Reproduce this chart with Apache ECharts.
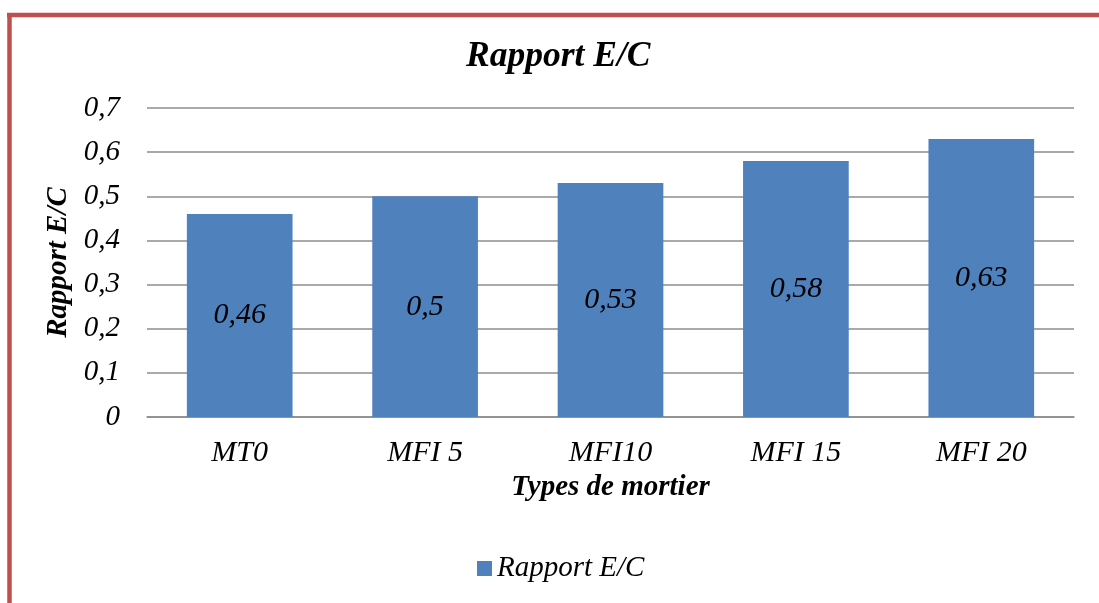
<!DOCTYPE html>
<html>
<head>
<meta charset="utf-8">
<script src="https://cdn.jsdelivr.net/npm/echarts@6/dist/echarts.min.js"></script>
<style>html,body{margin:0;padding:0;background:#fff}#c{width:1099px;height:603px}</style>
</head>
<body>
<div id="c"></div>
<script>
var categories = ['MT0', 'MFI 5', 'MFI10', 'MFI 15', 'MFI 20'];
var ratioValues = [0.46, 0.5, 0.53, 0.58, 0.63];
var seriesName = 'Rapport E/C';
var yMin = 0, yMax = 0.7, yStep = 0.1;

function fr(v) { if (v === 0) return '0'; return String(+v.toFixed(2)).replace('.', ','); }

var FONT = '"Liberation Serif", "Times New Roman", serif';
var chart = echarts.init(document.getElementById('c'));
chart.setOption({
  animation: false,
  backgroundColor: '#fff',
  title: {
    text: 'Rapport E/C', left: 461, top: 34,
    textStyle: { fontFamily: FONT, fontSize: 35.5, fontWeight: 'bold', fontStyle: 'italic', color: '#000' }
  },
  legend: {
    data: [seriesName], bottom: 15, left: 472, itemWidth: 15, itemHeight: 15, itemGap: 6,
    icon: 'rect',
    textStyle: { fontFamily: FONT, fontSize: 29, fontStyle: 'italic', color: '#000' }
  },
  grid: { left: 147, right: 25, top: 108, bottom: 186 },
  xAxis: {
    type: 'category', data: categories,
    name: 'Types de mortier', nameLocation: 'middle', nameGap: 50,
    nameTextStyle: { fontFamily: FONT, fontSize: 29, fontWeight: 'bold', fontStyle: 'italic', color: '#000' },
    axisLine: { lineStyle: { color: '#8c8c8c', width: 1.5 } },
    axisTick: { show: false },
    axisLabel: { fontFamily: FONT, fontSize: 30, fontStyle: 'italic', color: '#000', margin: 21 }
  },
  yAxis: {
    type: 'value', min: yMin, max: yMax, interval: yStep,
    name: 'Rapport E/C', nameLocation: 'middle', nameGap: 70,
    nameTextStyle: { fontFamily: FONT, fontSize: 29, fontWeight: 'bold', fontStyle: 'italic', color: '#000' },
    axisLine: { show: false }, axisTick: { show: false },
    splitLine: { lineStyle: { color: '#8c8c8c', width: 1.5 } },
    axisLabel: { fontFamily: FONT, fontSize: 29, fontStyle: 'italic', color: '#000', margin: 27, formatter: function (v) { return fr(v); } }
  },
  series: [{
    name: seriesName, type: 'bar', data: ratioValues, barCategoryGap: '43%',
    itemStyle: { color: '#4F81BD' },
    label: { show: true, position: 'inside', fontFamily: FONT, fontSize: 30, fontStyle: 'italic', color: '#000',
      formatter: function (p) { return fr(p.value); } }
  }],
  graphic: [
    { type: 'line', shape: { x1: 7, y1: 15, x2: 1099, y2: 15 }, style: { stroke: '#C0504D', lineWidth: 4.5 } },
    { type: 'line', shape: { x1: 9.5, y1: 13, x2: 9.5, y2: 603 }, style: { stroke: '#C0504D', lineWidth: 4.5 } }
  ]
});
</script>
</body>
</html>
